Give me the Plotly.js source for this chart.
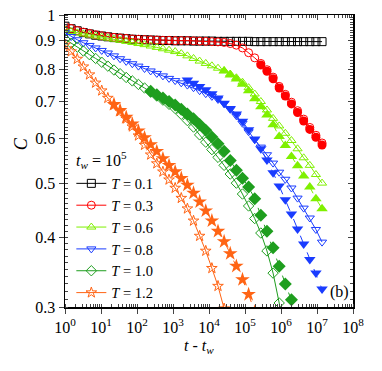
<!DOCTYPE html>
<html>
<head>
<meta charset="utf-8">
<script src="https://cdn.plot.ly/plotly-3.0.1.min.js"></script>
<style>
  body { margin: 0; background: #fff; }
  #chart { width: 382px; height: 371px; }
</style>
</head>
<body>
<div id="chart"></div>
<script>
// shared time grid, as log10(t - tw)
var logT = [0, 0.17, 0.34, 0.51, 0.68, 0.85, 1.02, 1.19, 1.36, 1.53, 1.7, 1.87, 2.04, 2.21,
  2.38, 2.55, 2.72, 2.89, 3.06, 3.23, 3.4, 3.57, 3.74, 3.91, 4.08, 4.25, 4.42, 4.59, 4.76,
  4.93, 5.1, 5.27, 5.44, 5.61, 5.78, 5.95, 6.12, 6.29, 6.46, 6.63, 6.8, 6.97, 7.14];
var tGrid = logT.map(function (v) { return Math.pow(10, v); });

// open symbols, tw = 1e5 (start at grid index 0)
var c01 = [0.955, 0.945, 0.937, 0.930, 0.925, 0.920, 0.917, 0.914, 0.911, 0.909, 0.907, 0.905,
  0.904, 0.903, 0.902, 0.901, 0.900, 0.900, 0.899, 0.899, 0.899, 0.898, 0.898, 0.898, 0.898,
  0.897, 0.897, 0.897, 0.897, 0.897, 0.897, 0.896, 0.896, 0.896, 0.896, 0.896, 0.896, 0.896,
  0.896, 0.896, 0.896, 0.896, 0.896];
var c03 = [0.955, 0.946, 0.938, 0.932, 0.927, 0.922, 0.918, 0.915, 0.912, 0.910, 0.908, 0.906,
  0.905, 0.904, 0.903, 0.902, 0.901, 0.901, 0.900, 0.900, 0.900, 0.899, 0.898, 0.897, 0.896,
  0.895, 0.893, 0.889, 0.883, 0.873, 0.856, 0.838, 0.819, 0.798, 0.774, 0.745, 0.721, 0.698,
  0.674, 0.651, 0.629, 0.609, 0.590];
var c06 = [0.940, 0.934, 0.929, 0.925, 0.921, 0.917, 0.913, 0.909, 0.905, 0.901, 0.897, 0.893,
  0.889, 0.885, 0.880, 0.875, 0.870, 0.865, 0.860, 0.853, 0.845, 0.836, 0.827, 0.819, 0.811,
  0.803, 0.795, 0.784, 0.772, 0.758, 0.741, 0.722, 0.700, 0.676, 0.653, 0.633, 0.614, 0.596,
  0.576, 0.555, 0.538, 0.518, 0.500];
var c08 = [0.930, 0.915, 0.903, 0.892, 0.882, 0.873, 0.864, 0.855, 0.845, 0.835, 0.826, 0.818,
  0.810, 0.802, 0.794, 0.786, 0.778, 0.770, 0.763, 0.756, 0.749, 0.741, 0.732, 0.723, 0.715,
  0.706, 0.694, 0.678, 0.660, 0.640, 0.618, 0.598, 0.580, 0.562, 0.543, 0.523, 0.508, 0.490,
  0.470, 0.451, 0.433, 0.413, 0.392];
var c10 = [0.905, 0.890, 0.876, 0.862, 0.849, 0.836, 0.823, 0.810, 0.797, 0.785, 0.773, 0.762,
  0.751, 0.740, 0.728, 0.716, 0.704, 0.692, 0.680, 0.664, 0.647, 0.630, 0.610, 0.592, 0.574,
  0.556, 0.538, 0.519, 0.500, 0.478, 0.455, 0.432, 0.407, 0.378, 0.345, 0.305, 0.260];
var c12 = [0.884, 0.860, 0.834, 0.808, 0.782, 0.756, 0.732, 0.710, 0.690, 0.672, 0.652, 0.631,
  0.608, 0.585, 0.562, 0.542, 0.524, 0.507, 0.490, 0.470, 0.450, 0.428, 0.402, 0.378, 0.352,
  0.327, 0.298, 0.270];

// filled symbols (no legend entry), each with the grid index where it starts
var f03 = [0.814, 0.793, 0.769, 0.740, 0.716, 0.693, 0.669, 0.646, 0.624, 0.604, 0.585];
var f03Start = 32;
var f06 = [0.794, 0.781, 0.768, 0.752, 0.732, 0.708, 0.685, 0.662, 0.636, 0.606, 0.584, 0.558,
  0.537, 0.515, 0.492, 0.469, 0.450];
var f06Start = 26;
var f08 = [0.765, 0.755, 0.745, 0.735, 0.723, 0.710, 0.695, 0.680, 0.665, 0.645, 0.623, 0.600,
  0.576, 0.550, 0.522, 0.494, 0.467, 0.440, 0.414, 0.389, 0.365, 0.345, 0.323];
var f08Start = 20;
var f10 = [0.730, 0.720, 0.710, 0.700, 0.690, 0.678, 0.665, 0.652, 0.637, 0.622, 0.605, 0.588,
  0.570, 0.549, 0.527, 0.510, 0.492, 0.469, 0.438, 0.410, 0.383, 0.355, 0.330, 0.309, 0.288];
var f10Start = 14;
var f12 = [0.692, 0.675, 0.656, 0.638, 0.620, 0.603, 0.586, 0.570, 0.553, 0.538, 0.524, 0.510,
  0.496, 0.480, 0.463, 0.446, 0.428, 0.410, 0.393, 0.374, 0.355, 0.336, 0.316, 0.294];
var f12Start = 8;

var xTickVals = [1, 1e1, 1e2, 1e3, 1e4, 1e5, 1e6, 1e7, 1e8];
var xTickText = ['10<sup>0</sup>', '10<sup>1</sup>', '10<sup>2</sup>', '10<sup>3</sup>',
  '10<sup>4</sup>', '10<sup>5</sup>', '10<sup>6</sup>', '10<sup>7</sup>', '10<sup>8</sup>'];
var yTickVals = [0.3, 0.4, 0.5, 0.6, 0.7, 0.8, 0.9, 1];
var yTickText = ['0.3', '0.4', '0.5', '0.6', '0.7', '0.8', '0.9', '1'];

var serif = 'Liberation Serif, Times New Roman, serif';

function openTrace(name, c, color, symbol) {
  return {
    x: tGrid.slice(0, c.length), y: c, name: name,
    mode: 'lines+markers', type: 'scatter',
    line: {color: color, width: 1},
    marker: {symbol: symbol, size: 8, color: color, line: {color: color, width: 1}}
  };
}
function filledTrace(c, start, color, symbol, size) {
  return {
    x: tGrid.slice(start, start + c.length), y: c,
    mode: 'lines+markers', type: 'scatter', showlegend: false,
    line: {color: color, width: 1, dash: 'dash'},
    marker: {symbol: symbol, size: size, color: color}
  };
}

var traces = [
  filledTrace(f03, f03Start, '#ff0000', 'circle', 9),
  filledTrace(f06, f06Start, '#7ff000', 'triangle-up', 10),
  filledTrace(f08, f08Start, '#1a3cff', 'triangle-down', 10),
  filledTrace(f10, f10Start, '#1e9e1e', 'diamond', 10),
  filledTrace(f12, f12Start, '#ff6414', 'star', 11),
  openTrace('<i>T</i> = 0.1', c01, '#000000', 'square-open'),
  openTrace('<i>T</i> = 0.3', c03, '#ff0000', 'circle-open'),
  openTrace('<i>T</i> = 0.6', c06, '#7ff000', 'triangle-up-open'),
  openTrace('<i>T</i> = 0.8', c08, '#1a3cff', 'triangle-down-open'),
  openTrace('<i>T</i> = 1.0', c10, '#1e9e1e', 'diamond-open'),
  openTrace('<i>T</i> = 1.2', c12, '#ff6414', 'star-open'),
  // empty trace so the top/right axes get drawn
  {x: [], y: [], xaxis: 'x2', yaxis: 'y2', type: 'scatter', showlegend: false}
];

var xRange = [0, 8];
var yRange = [Math.log10(0.3), 0];

var layout = {
  width: 382, height: 371,
  margin: {l: 65, r: 29, t: 15, b: 64},
  paper_bgcolor: '#fff', plot_bgcolor: '#fff',
  font: {family: serif, size: 16, color: '#000'},
  showlegend: true,
  legend: {x: 0.022, y: 0.478, xanchor: 'left', yanchor: 'top',
    bgcolor: 'rgba(0,0,0,0)', font: {family: serif, size: 14.5}},
  xaxis: {
    type: 'log', range: xRange, tickmode: 'array', tickvals: xTickVals, ticktext: xTickText,
    ticks: 'outside', ticklen: 5, tickwidth: 1, showline: true, linewidth: 1.5, linecolor: '#000',
    showgrid: false, zeroline: false, tickfont: {family: serif, size: 16},
    minor: {ticks: 'inside', ticklen: 3, dtick: 'D1', showgrid: false}
  },
  yaxis: {
    type: 'log', range: yRange, tickmode: 'array', tickvals: yTickVals, ticktext: yTickText,
    ticks: 'outside', ticklen: 5, tickwidth: 1, showline: true, linewidth: 1.5, linecolor: '#000',
    showgrid: false, zeroline: false, tickfont: {family: serif, size: 16},
    minor: {ticks: 'inside', ticklen: 3, dtick: 'L0.01', showgrid: false}
  },
  xaxis2: {
    type: 'log', range: xRange, overlaying: 'x', side: 'top', anchor: 'y',
    tickmode: 'array', tickvals: xTickVals, showticklabels: false,
    ticks: 'inside', ticklen: 5, showline: true, linewidth: 1.5, linecolor: '#000',
    showgrid: false, zeroline: false,
    minor: {ticks: 'inside', ticklen: 3, dtick: 'D1', showgrid: false}
  },
  yaxis2: {
    type: 'log', range: yRange, overlaying: 'y', side: 'right', anchor: 'x',
    tickmode: 'array', tickvals: yTickVals, showticklabels: false,
    ticks: 'inside', ticklen: 5, showline: true, linewidth: 1.5, linecolor: '#000',
    showgrid: false, zeroline: false,
    minor: {ticks: 'inside', ticklen: 3, dtick: 'L0.01', showgrid: false}
  },
  annotations: [
    {text: '<i>C</i>', xref: 'paper', yref: 'paper', x: -0.15, y: 0.56, showarrow: false,
      xanchor: 'center', yanchor: 'middle', textangle: -90, font: {family: serif, size: 18}},
    {text: '<i>t</i> - <i>t</i><sub><i>w</i></sub>', xref: 'paper', yref: 'paper',
      x: 0.465, y: -0.135, xanchor: 'center', yanchor: 'middle', showarrow: false,
      font: {family: serif, size: 16}},
    {text: '<i>t</i><sub><i>w</i></sub> = 10<sup>5</sup>', xref: 'paper', yref: 'paper',
      x: 0.03, y: 0.505, xanchor: 'left', yanchor: 'middle', showarrow: false,
      font: {family: serif, size: 16}},
    {text: '(b)', xref: 'paper', yref: 'paper', x: 0.952, y: 0.05, xanchor: 'center',
      yanchor: 'middle', showarrow: false, font: {family: serif, size: 16}}
  ]
};

Plotly.newPlot('chart', traces, layout, {staticPlot: true, displayModeBar: false});
</script>
</body>
</html>
